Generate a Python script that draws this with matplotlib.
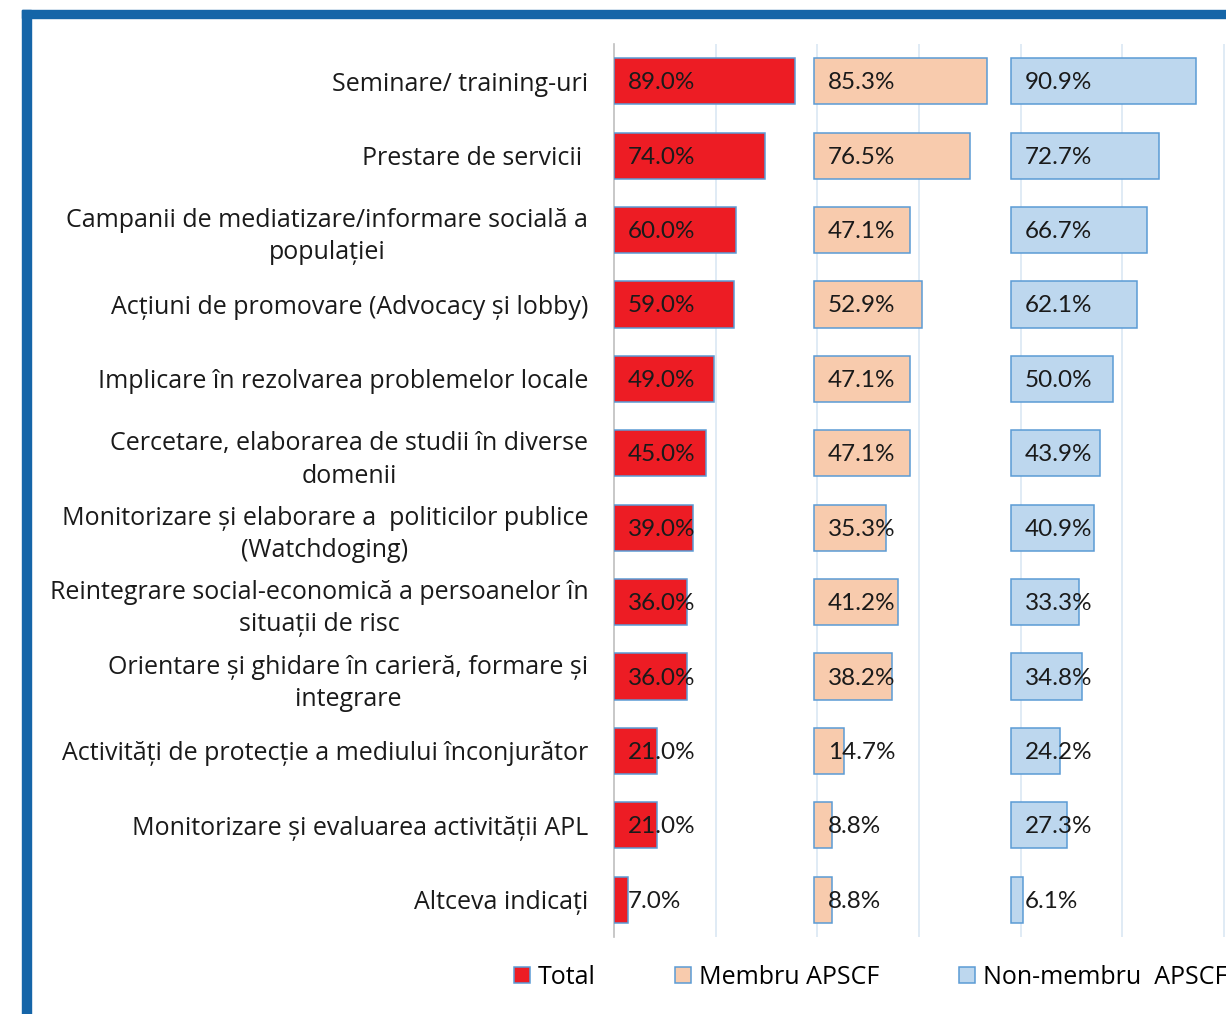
import numpy as np
import matplotlib.pyplot as plt
from matplotlib.patches import Patch, Rectangle

categories = [
    "Seminare/ training-uri",
    "Prestare de servicii ",
    "Campanii de mediatizare/informare socială a\npopulației",
    "Acțiuni de promovare (Advocacy și lobby)",
    "Implicare în rezolvarea problemelor locale",
    "Cercetare, elaborarea de studii în diverse\ndomenii",
    "Monitorizare și elaborare a  politicilor publice\n(Watchdoging)",
    "Reintegrare social-economică a persoanelor în\nsituații de risc",
    "Orientare și ghidare în carieră, formare și\nintegrare",
    "Activități de protecție a mediului înconjurător",
    "Monitorizare și evaluarea activității APL",
    "Altceva indicați",
]
total = [89.0, 74.0, 60.0, 59.0, 49.0, 45.0, 39.0, 36.0, 36.0, 21.0, 21.0, 7.0]
membru = [85.3, 76.5, 47.1, 52.9, 47.1, 47.1, 35.3, 41.2, 38.2, 14.7, 8.8, 8.8]
non_membru = [90.9, 72.7, 66.7, 62.1, 50.0, 43.9, 40.9, 33.3, 34.8, 24.2, 27.3, 6.1]
series_names = ["Total", "Membru APSCF", "Non-membru  APSCF"]

colors = ["#ED1C24", "#F8CBAD", "#BDD7EE"]
edge = "#5B9BD5"
offsets = [0, 98.3, 195.2]   # where each panel's bars start on the shared x axis

W, H = 1226, 1014
fig = plt.figure(figsize=(W / 100, H / 100), dpi=100)
ax = fig.add_axes([614 / W, 1 - 937 / H, 1 - 614 / W, (937 - 44) / H])

y = np.arange(len(categories))
for vals, off, col in zip([total, membru, non_membru], offsets, colors):
    ax.barh(y, vals, left=off, height=0.62, color=col, edgecolor=edge, linewidth=1.1, zorder=3)
    for yi, v in zip(y, vals):
        ax.text(off + 6.8, yi + 0.02, f"{v:.1f}%", ha='left', va='center', fontsize=17.5,
                family='Lato', color='#1A1A1A', zorder=4)

ax.set_xlim(0, 300.9)
ax.set_ylim(len(categories) - 0.5, -0.5)
ax.set_xticks(np.arange(50, 301, 50))
ax.xaxis.grid(True, color='#DAE7F4', linewidth=1.2, zorder=0)
ax.tick_params(axis='x', length=0, labelbottom=False)
ax.tick_params(axis='y', length=0, pad=18.5)
ax.set_yticks(y)
ax.set_yticklabels(categories, fontsize=18, family='Open Sans', color='#1A1A1A',
                   multialignment='center', linespacing=1.38)
for s in ['top', 'right', 'bottom']:
    ax.spines[s].set_visible(False)
ax.spines['left'].set_color('#BFBFBF')
ax.spines['left'].set_linewidth(1.2)

handles = [Patch(facecolor=c, edgecolor=edge, linewidth=1.1) for c in colors]
fig.legend(handles, series_names, loc='center left', bbox_to_anchor=(514 / W, 1 - 977 / H),
           ncol=3, frameon=False, prop={'family': 'Open Sans', 'size': 18},
           handlelength=0.62, handleheight=0.62, handletextpad=0.32, columnspacing=3.2,
           borderaxespad=0, borderpad=0)

# blue frame around the picture
blue = "#1565A8"
fig.patches.append(Rectangle((22 / W, 0), 9 / W, 1 - 10 / H, transform=fig.transFigure,
                             color=blue, zorder=10))
fig.patches.append(Rectangle((22 / W, 1 - 18 / H), 1, 8 / H, transform=fig.transFigure,
                             color=blue, zorder=10))

fig.savefig("out.png", dpi=100)
